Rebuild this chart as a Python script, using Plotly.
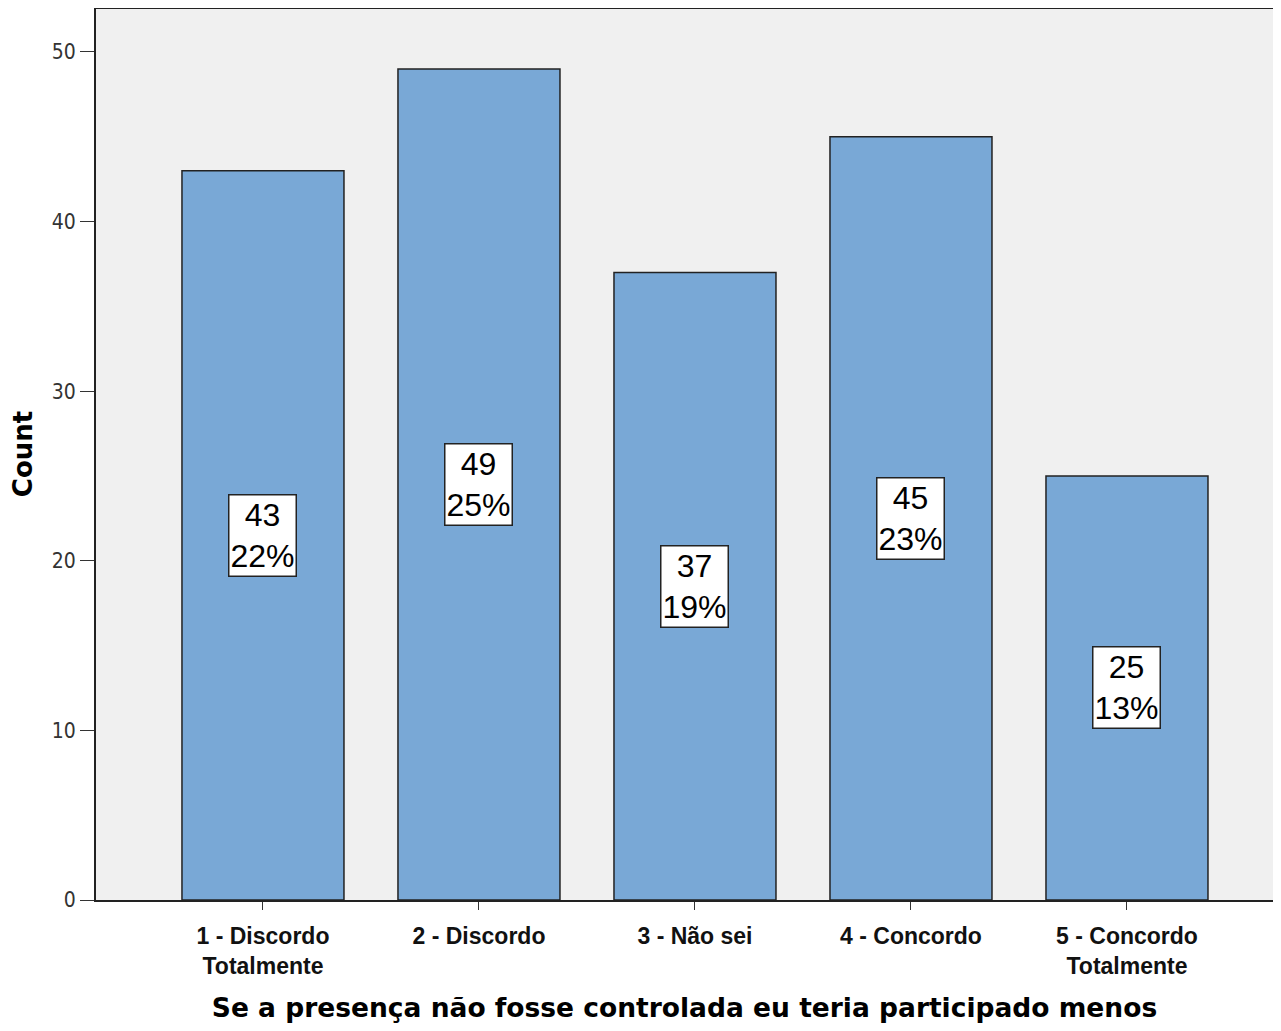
import plotly.graph_objects as go

categorias = ['1 - Discordo<br>Totalmente', '2 - Discordo', '3 - Não sei',
              '4 - Concordo', '5 - Concordo<br>Totalmente']
contagens = [43, 49, 37, 45, 25]
y_ticks = [0, 10, 20, 30, 40, 50]

total = sum(contagens)
pcts = [round(100 * c / total) for c in contagens]
xs = list(range(len(categorias)))

fig = go.Figure()
fig.add_trace(go.Bar(
    x=xs, y=contagens, width=0.75,
    marker=dict(color='#79a8d6', line=dict(color='#222222', width=1.5)),
    hoverinfo='skip'
))

# caixas com contagem e percentagem no meio de cada barra
for x, c, p in zip(xs, contagens, pcts):
    fig.add_annotation(
        x=x, y=c / 2, text='%d<br>%d%%' % (c, p), showarrow=False,
        font=dict(family='Liberation Sans, Arial', size=32, color='black'),
        bgcolor='white', bordercolor='#222222', borderwidth=1.5, borderpad=1
    )

fig.update_layout(
    width=1265, height=1015,
    margin=dict(l=88, r=0, t=0, b=123),
    paper_bgcolor='white', plot_bgcolor='#f0f0f0',
    showlegend=False,
    xaxis=dict(
        range=[-0.773, 4.676], tickmode='array', tickvals=xs, ticktext=categorias,
        ticks='outside', ticklen=8, tickcolor='#333', showgrid=False, zeroline=False,
        showline=True, linecolor='#222', linewidth=2, ticklabelstandoff=6,
        tickfont=dict(family='Liberation Sans, Arial', size=23, color='#111', weight='bold'),
        title=dict(text='<b>Se a presença não fosse controlada eu teria participado menos</b>',
                   font=dict(family='DejaVu Sans', size=26.5, color='black'), standoff=25)
    ),
    yaxis=dict(
        range=[0, 52.59], tickvals=y_ticks, ticks='outside', ticklen=14, tickcolor='#333',
        showgrid=False, zeroline=False, showline=True, linecolor='#222', linewidth=2,
        tickfont=dict(family='DejaVu Sans Condensed, DejaVu Sans', size=21, color='#333'),
        title=dict(text='<b>Count</b>', font=dict(family='DejaVu Sans', size=26, color='black'),
                   standoff=20)
    ),
    shapes=[dict(type='line', xref='paper', yref='paper', x0=0, x1=1, y0=1, y1=1,
                 line=dict(color='#222', width=2))]
)

fig.write_html('out.html')
